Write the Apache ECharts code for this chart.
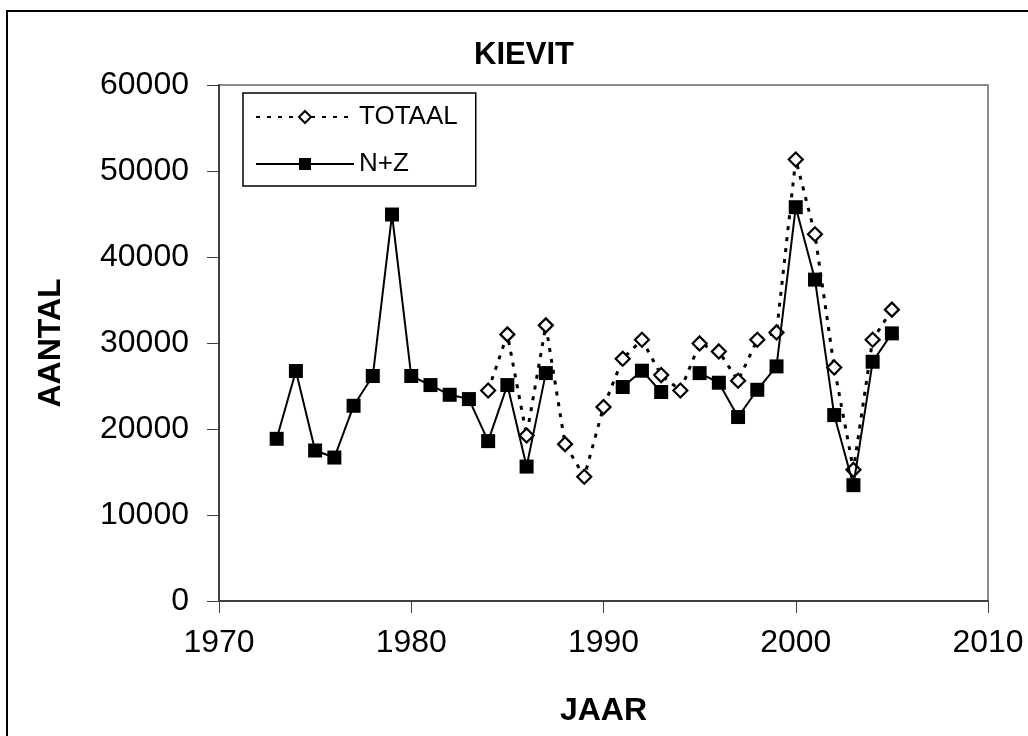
<!DOCTYPE html>
<html>
<head>
<meta charset="utf-8">
<script src="https://cdn.jsdelivr.net/npm/echarts@6/dist/echarts.min.js"></script>
<style>
html,body{margin:0;padding:0;background:#fff;}
#chart{width:1028px;height:736px;}
</style>
</head>
<body>
<div id="chart"></div>
<script>
var chartTitle = 'KIEVIT';
var xAxisName = 'JAAR';
var yAxisName = 'AANTAL';
var seriesNames = ['TOTAAL', 'N+Z'];
var years = [1973,1974,1975,1976,1977,1978,1979,1980,1981,1982,1983,1984,1985,1986,1987,1988,1989,1990,1991,1992,1993,1994,1995,1996,1997,1998,1999,2000,2001,2002,2003,2004,2005];
var totaal = [null,null,null,null,null,null,null,null,null,null,null,24480,31000,19240,32050,18240,14440,22550,28170,30380,26270,24480,29950,29020,25610,30380,31230,51340,42640,27160,15250,30380,33880];
var nz = [18860,26740,17500,16680,22700,26160,44940,26160,25110,23980,23480,18590,25110,15630,26500,null,null,null,24880,26780,24300,null,26500,25380,21390,24560,27280,45790,37370,21620,13470,27820,31120];

function pairs(vals) {
  return years.map(function (y, i) { return [y, vals[i]]; });
}

var chart = echarts.init(document.getElementById('chart'), null, {renderer: 'canvas'});
var FONT = '"Liberation Sans", Arial, sans-serif';
chart.setOption({
  animation: false,
  backgroundColor: '#fff',
  title: {
    text: chartTitle,
    left: 519,
    textAlign: 'center',
    top: 35,
    textStyle: {fontFamily: FONT, fontSize: 31, fontWeight: 'bold', color: '#000'}
  },
  graphic: [{
    type: 'rect',
    shape: {x: 7, y: 11, width: 1200, height: 900},
    style: {fill: 'none', stroke: '#000', lineWidth: 2},
    silent: true
  }],
  legend: {
    orient: 'vertical',
    left: 243,
    top: 93,
    padding: [11, 18, 9, 12],
    itemGap: 21,
    itemWidth: 98,
    itemHeight: 15,
    borderColor: '#000',
    borderWidth: 1.5,
    backgroundColor: '#fff',
    textStyle: {fontFamily: FONT, fontSize: 26, color: '#000'},
    data: seriesNames
  },
  grid: {
    left: 219, right: 40, top: 85, bottom: 135,
    show: true, borderColor: '#8c8c8c', borderWidth: 2, backgroundColor: 'transparent'
  },
  xAxis: {
    type: 'value',
    min: 1970, max: 2010, interval: 10,
    name: xAxisName,
    nameLocation: 'middle',
    nameGap: 94,
    nameTextStyle: {fontFamily: FONT, fontSize: 32, fontWeight: 'bold', color: '#000'},
    axisLine: {show: true, lineStyle: {color: '#404040', width: 2}},
    axisTick: {show: true, inside: false, length: 12, lineStyle: {color: '#404040', width: 1}},
    axisLabel: {margin: 26, fontFamily: FONT, fontSize: 32, color: '#000', formatter: function (v) { return String(v); }},
    splitLine: {show: false}
  },
  yAxis: {
    type: 'value',
    min: 0, max: 60000, interval: 10000,
    name: yAxisName,
    nameLocation: 'middle',
    nameGap: 152,
    nameTextStyle: {fontFamily: FONT, fontSize: 32, fontWeight: 'bold', color: '#000'},
    axisLine: {show: true, lineStyle: {color: '#404040', width: 2}},
    axisTick: {show: true, inside: false, length: 12, lineStyle: {color: '#404040', width: 1}},
    axisLabel: {margin: 30, fontFamily: FONT, fontSize: 32, color: '#000', formatter: function (v) { return String(v); }},
    splitLine: {show: false}
  },
  series: [{
    name: seriesNames[0],
    type: 'line',
    data: pairs(totaal),
    symbol: 'diamond',
    symbolSize: 14,
    showAllSymbol: true,
    lineStyle: {color: '#000', width: 3, type: [4, 7]},
    itemStyle: {color: '#fff', borderColor: '#000', borderWidth: 2.2},
    z: 2
  }, {
    name: seriesNames[1],
    type: 'line',
    data: pairs(nz),
    symbol: 'rect',
    symbolSize: 14,
    showAllSymbol: true,
    connectNulls: false,
    lineStyle: {color: '#000', width: 2},
    itemStyle: {color: '#000', borderColor: '#000', borderWidth: 0},
    z: 3
  }]
});
</script>
</body>
</html>
